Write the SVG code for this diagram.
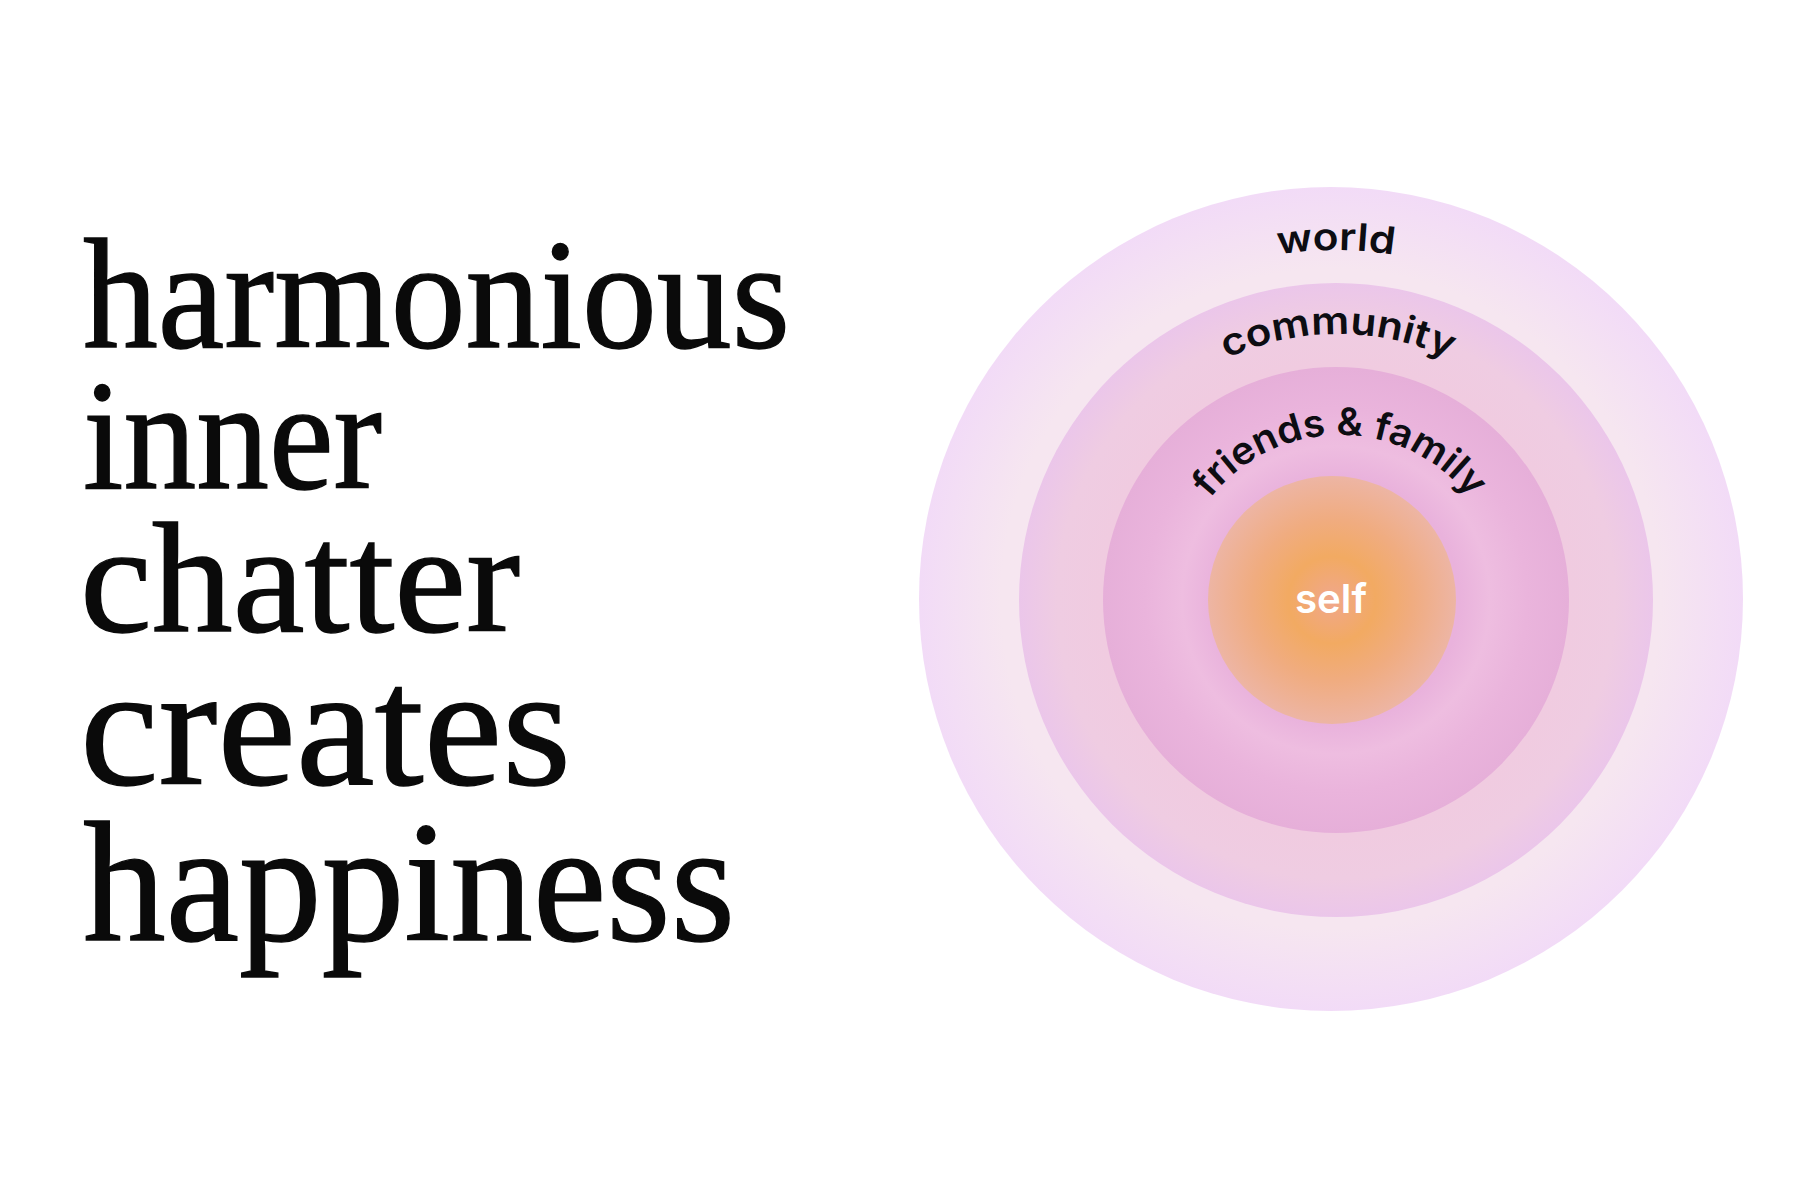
<svg xmlns="http://www.w3.org/2000/svg" width="1800" height="1200" viewBox="0 0 1800 1200">
  <style>
    .title { font-family: "Liberation Serif", "Times New Roman", serif; fill: #0a0a0a; stroke: #0a0a0a; stroke-width: 1.4; }
    .ring { font-family: Inter, "Noto Sans", "Liberation Sans", sans-serif; font-size: 38px; font-weight: 600; fill: #0d0d12; }
    .self { font-family: Inter, "Noto Sans", "Liberation Sans", sans-serif; font-size: 40px; font-weight: 600; fill: #ffffff; }
  </style>
  <defs>
    <radialGradient id="gWorld" cx="0.5" cy="0.5" r="0.5">
      <stop offset="0" stop-color="#f6e7ee"/>
      <stop offset="0.8" stop-color="#f6e6f0"/>
      <stop offset="1" stop-color="#f2dbf7"/>
    </radialGradient>
    <radialGradient id="gCommunity" cx="0.5" cy="0.5" r="0.5">
      <stop offset="0" stop-color="#efcbe0"/>
      <stop offset="0.74" stop-color="#f0cbe0"/>
      <stop offset="0.88" stop-color="#efcce2"/>
      <stop offset="1" stop-color="#ebc6ea"/>
    </radialGradient>
    <radialGradient id="gFriends" cx="0.5" cy="0.5" r="0.5">
      <stop offset="0" stop-color="#e9b2dc"/>
      <stop offset="0.53" stop-color="#e9b2dc"/>
      <stop offset="0.66" stop-color="#eebde0"/>
      <stop offset="0.82" stop-color="#eab4dc"/>
      <stop offset="1" stop-color="#e6afd9"/>
    </radialGradient>
    <radialGradient id="gSelf" cx="0.5" cy="0.5" r="0.5">
      <stop offset="0" stop-color="#f0a78c"/>
      <stop offset="0.35" stop-color="#f2aa62"/>
      <stop offset="0.65" stop-color="#f0ac80"/>
      <stop offset="1" stop-color="#edb5a4"/>
    </radialGradient>
    <path id="arcWorld" d="M 986,600 A 350 350 0 0 1 1686,600"/>
    <path id="arcCommunity" d="M 1072,600 A 266 266 0 0 1 1604,600"/>
    <path id="arcFriends" d="M 1175,600 A 165 165 0 0 1 1505,600"/>
  </defs>

  <rect width="1800" height="1200" fill="#ffffff"/>

  <g id="title">
    <text class="title" font-size="156">
      <tspan x="83" y="347" textLength="707" lengthAdjust="spacingAndGlyphs">harmonious</tspan>
      <tspan x="83" y="488" textLength="299" lengthAdjust="spacingAndGlyphs">inner</tspan>
      <tspan x="80" y="631" textLength="440" lengthAdjust="spacingAndGlyphs">chatter</tspan>
      <tspan x="80" y="784" font-size="172" textLength="491" lengthAdjust="spacingAndGlyphs">creates</tspan>
      <tspan x="83" y="940" font-size="172" textLength="652" lengthAdjust="spacingAndGlyphs">happiness</tspan>
    </text>
  </g>

  <g id="node-world">
    <circle cx="1331" cy="599" r="412" fill="url(#gWorld)"/>
    <text class="ring" text-anchor="middle"><textPath href="#arcWorld" startOffset="50%" textLength="116" lengthAdjust="spacingAndGlyphs">world</textPath></text>
  </g>

  <g id="node-community">
    <circle cx="1336" cy="600" r="317" fill="url(#gCommunity)"/>
    <text class="ring" text-anchor="middle"><textPath href="#arcCommunity" startOffset="50%" textLength="230" lengthAdjust="spacingAndGlyphs">community</textPath></text>
  </g>

  <g id="node-friends-family">
    <circle cx="1336" cy="600" r="233" fill="url(#gFriends)"/>
    <text class="ring" text-anchor="middle"><textPath href="#arcFriends" startOffset="50%" textLength="300" lengthAdjust="spacingAndGlyphs">friends &amp; family</textPath></text>
  </g>

  <g id="node-self">
    <circle cx="1332" cy="600" r="124" fill="url(#gSelf)"/>
    <text class="self" x="1331" y="613" text-anchor="middle" textLength="72" lengthAdjust="spacingAndGlyphs">self</text>
  </g>
</svg>
